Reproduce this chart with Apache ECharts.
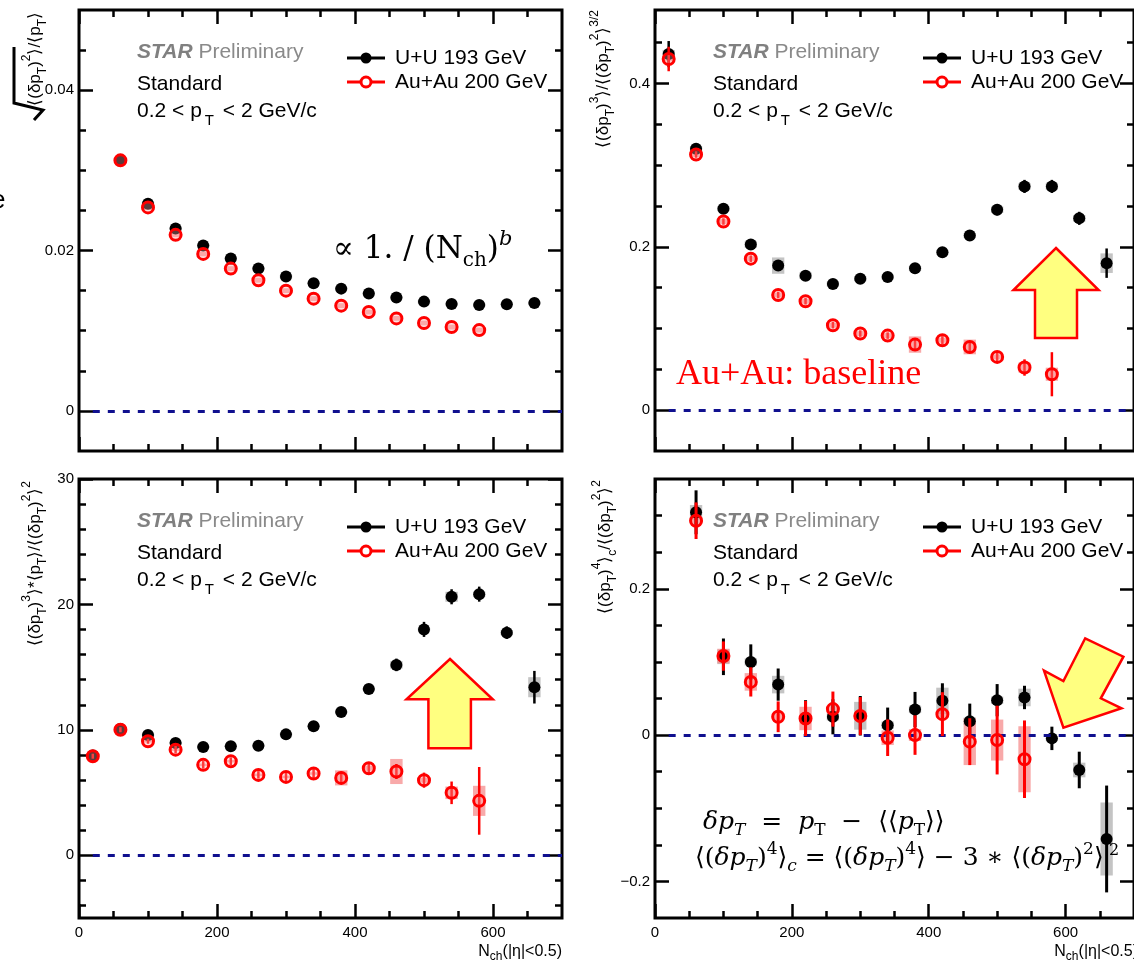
<!DOCTYPE html>
<html><head><meta charset="utf-8"><title>STAR Preliminary - pT fluctuations</title>
<script src="https://cdn.jsdelivr.net/npm/echarts@6.0.0/dist/echarts.min.js"></script>
<style>html,body{margin:0;padding:0;background:#fff;overflow:hidden}#chart{width:1134px;height:963px}</style>
</head><body><div id="chart"></div>
<script>
// ================= DATA =================
const nchBins = [20,60,100,140,180,220,260,300,340,380,420,460,500,540,580,620,660];
const xTickMajor = [0,200,400,600];
const xTickLabels = ['0','200','400','600'];
const seriesNames = ['U+U 193 GeV','Au+Au 200 GeV'];

// Panel 1: sqrt(<(dpT)^2>)/<pT>
const sigmaTicks = [0,0.02,0.04];
const sigmaTickLabels = ['0','0.02','0.04'];
const sigmaUU   = [null,0.03125,0.02583,0.02275,0.02063,0.0190,0.01775,0.01675,0.01592,0.01525,0.01463,0.01413,0.01363,0.01333,0.01321,0.0133,0.01346];
const sigmaUUSys = [null,0.0002,0.0002,0.0002,0.0002,0.0002,0.0002,0.0002,0.0002,0.0002,0.0002,0.0002,0.0002,0.0002,0.0002,0.0002,0.0002];
const sigmaAuAu = [null,0.03125,0.02538,0.02196,0.01958,0.01775,0.0163,0.0150,0.0140,0.01313,0.01233,0.01154,0.01096,0.01046,0.01008,null,null];
const sigmaAuAuSys = [null,0.0003,0.0003,0.0003,0.0003,0.0003,0.0003,0.0003,0.0003,0.0003,0.0003,0.0003,0.0003,0.0003,0.0003,null,null];

// Panel 2: <(dpT)^3>/<(dpT)^2>^(3/2)
const skewTicks = [0,0.2,0.4];
const skewTickLabels = ['0','0.2','0.4'];
const skewUU    = [0.436,0.320,0.2467,0.203,0.177,0.1647,0.1545,0.161,0.163,0.1737,0.1933,0.214,0.2455,0.274,0.274,0.2349,0.180];
const skewUUErr = [0.016,0.006,0.004,0.005,0.004,0.004,0.004,0.004,0.004,0.004,0.005,0.006,0.007,0.008,0.008,0.008,0.018];
const skewUUSys = [0.005,0.003,0.003,0.004,0.01,0.004,0.003,0.003,0.003,0.003,0.003,0.003,0.004,0.004,0.004,0.004,0.012];
const skewAuAu    = [0.430,0.313,0.231,0.1855,0.141,0.1333,0.104,0.0938,0.0913,0.0803,0.0856,0.0774,0.0652,0.0522,0.044,null,null];
const skewAuAuErr = [0.015,0.004,0.004,0.004,0.004,0.004,0.004,0.004,0.004,0.006,0.005,0.006,0.006,0.01,0.027,null,null];
const skewAuAuSys = [0.003,0.003,0.003,0.003,0.003,0.003,0.003,0.003,0.003,0.01,0.003,0.009,0.003,0.006,0.008,null,null];

// Panel 3: <(dpT)^3>*<pT>/<(dpT)^2>^2
const ratioTicks = [0,10,20,30];
const ratioTickLabels = ['0','10','20','30'];
const ratioUU    = [7.95,10.07,9.59,8.95,8.64,8.69,8.74,9.64,10.28,11.42,13.25,15.18,18.01,20.61,20.82,17.75,13.40];
const ratioUUErr = [0.2,0.2,0.2,0.2,0.2,0.2,0.2,0.3,0.3,0.4,0.4,0.5,0.6,0.6,0.6,0.5,1.3];
const ratioUUSys = [0.1,0.1,0.1,0.1,0.1,0.1,0.1,0.1,0.1,0.1,0.1,0.3,0.1,0.4,0.2,0.2,0.8];
const ratioAuAu    = [7.9,10.01,9.09,8.42,7.21,7.50,6.41,6.25,6.52,6.17,6.94,6.68,5.99,4.98,4.34,null,null];
const ratioAuAuErr = [0.2,0.2,0.2,0.3,0.3,0.3,0.3,0.4,0.4,0.5,0.5,0.6,0.6,0.9,2.7,null,null];
const ratioAuAuSys = [0.1,0.1,0.1,0.1,0.1,0.1,0.1,0.1,0.1,0.6,0.2,1.0,0.2,0.5,1.2,null,null];

// Panel 4: <(dpT)^4>_c/<(dpT)^2>^2
const kurtTicks = [-0.2,0,0.2];
const kurtTickLabels = ['\u22120.2','0','0.2'];
const kurtUU    = [null,0.3045,0.107,0.100,0.069,0.0227,0.025,0.0264,0.0136,0.035,0.0468,0.019,0.0477,0.0514,-0.0045,-0.0477,-0.142];
const kurtUUErr = [null,0.03,0.025,0.024,0.022,0.025,0.024,0.027,0.024,0.024,0.024,0.024,0.022,0.016,0.016,0.025,0.073];
const kurtUUSys = [null,0.01,0.01,0.005,0.012,0.005,0.005,0.019,0.005,0.005,0.018,0.005,0.005,0.012,0.003,0.01,0.05];
const kurtAuAu    = [null,0.293,0.108,0.0727,0.025,0.0227,0.0355,0.026,-0.0036,0.0,0.0286,-0.009,-0.0068,-0.033,null,null,null];
const kurtAuAuErr = [null,0.025,0.02,0.02,0.021,0.024,0.024,0.026,0.025,0.027,0.03,0.032,0.047,0.053,null,null,null];
const kurtAuAuSys = [null,0.005,0.01,0.012,0.005,0.016,0.005,0.005,0.01,0.008,0.005,0.032,0.028,0.045,null,null,null];

// ================= STYLE / LAYOUT =================
const SANS = '"Liberation Sans", Arial, Helvetica, sans-serif';
const SERIF = '"DejaVu Serif", "Liberation Serif", serif';
const TIMES = '"Liberation Serif", "Times New Roman", serif';
const PW = 483;
const panels = [
  {left:79,  top:10,  height:441, yMin:-0.005, yMax:0.05, yStep:0.005, ticks:sigmaTicks, labels:sigmaTickLabels, xLab:false,
   uu:sigmaUU, uuErr:null, uuSys:sigmaUUSys, au:sigmaAuAu, auErr:null, auSys:sigmaAuAuSys, errW:2.5, redFill:'rgba(255,170,170,0.35)'},
  {left:655, top:10,  height:441, yMin:-0.05, yMax:0.49, yStep:0.05, ticks:skewTicks, labels:skewTickLabels, xLab:false,
   uu:skewUU, uuErr:skewUUErr, uuSys:skewUUSys, au:skewAuAu, auErr:skewAuAuErr, auSys:skewAuAuSys, errW:2.5, redFill:'rgba(255,170,170,0.35)'},
  {left:79,  top:479, height:439, yMin:-5, yMax:30, yStep:2, ticks:ratioTicks, labels:ratioTickLabels, xLab:true,
   uu:ratioUU, uuErr:ratioUUErr, uuSys:ratioUUSys, au:ratioAuAu, auErr:ratioAuAuErr, auSys:ratioAuAuSys, errW:2.5, redFill:'rgba(255,170,170,0.35)'},
  {left:655, top:479, height:439, yMin:-0.25, yMax:0.35, yStep:0.05, ticks:kurtTicks, labels:kurtTickLabels, xLab:true,
   uu:kurtUU, uuErr:kurtUUErr, uuSys:kurtUUSys, au:kurtAuAu, auErr:kurtAuAuErr, auSys:kurtAuAuSys, errW:3, redFill:'rgba(255,255,255,0)'}
];

function minorTicks(min, max, step, majors) {
  const out = [];
  for (let k = Math.ceil(min/step - 1e-9); k <= Math.floor(max/step + 1e-9); k++) {
    const v = +(k*step).toFixed(6);
    if (v <= min + 1e-9 || v >= max - 1e-9) continue;
    if (majors.some(m => Math.abs(m - v) < 1e-9)) continue;
    out.push(v);
  }
  return out;
}
const xTickMinor = minorTicks(0, 700, 50, xTickMajor);

function rows(vals, extra) {
  const r = [];
  nchBins.forEach((x, i) => {
    if (vals[i] == null) return;
    if (extra && extra[i] == null) return;
    r.push(extra ? [x, vals[i], extra[i]] : [x, vals[i]]);
  });
  return r;
}
function boxRender(color, hw) {
  return function (params, api) {
    const x = api.value(0), y = api.value(1), s = api.value(2);
    const a = api.coord([x - hw, y + s]), b = api.coord([x + hw, y - s]);
    return {type:'rect', shape:{x:a[0], y:a[1], width:b[0]-a[0], height:Math.max(b[1]-a[1], 0.5)}, style:{fill:color}};
  };
}
function errRender(color, w) {
  return function (params, api) {
    const x = api.value(0), y = api.value(1), e = api.value(2);
    const a = api.coord([x, y - e]), b = api.coord([x, y + e]);
    return {type:'line', shape:{x1:a[0], y1:a[1], x2:b[0], y2:b[1]}, style:{stroke:color, lineWidth:w}};
  };
}

const option = {animation:false, backgroundColor:'#fff', grid:[], xAxis:[], yAxis:[], series:[], graphic:[]};

panels.forEach((p, gi) => {
  option.grid.push({left:p.left, top:p.top, width:PW, height:p.height, show:true,
    borderColor:'#000', borderWidth:3, backgroundColor:'rgba(0,0,0,0)'});
  const yMinor = minorTicks(p.yMin, p.yMax, p.yStep, p.ticks);
  const fmtY = v => { const i = p.ticks.findIndex(t => Math.abs(t - v) < 1e-9); return i >= 0 ? p.labels[i] : ''; };
  const fmtX = v => { const i = xTickMajor.findIndex(t => Math.abs(t - v) < 1e-9); return i >= 0 ? xTickLabels[i] : ''; };
  const xi = option.xAxis.length, yi = option.yAxis.length;
  const mkX = (pos, major, lab) => ({type:'value', gridIndex:gi, position:pos, min:0, max:700,
    axisLine:{show:false, onZero:false}, splitLine:{show:false},
    axisTick:{show:true, inside:true, length:major?14:7, lineStyle:{color:'#000', width:2.5}, customValues:major?xTickMajor:xTickMinor},
    axisLabel: lab ? {show:true, customValues:xTickMajor, formatter:fmtX, margin:7, fontSize:15, fontFamily:SANS, color:'#000'} : {show:false}});
  const mkY = (pos, major, lab) => ({type:'value', gridIndex:gi, position:pos, min:p.yMin, max:p.yMax,
    axisLine:{show:false, onZero:false}, splitLine:{show:false},
    axisTick:{show:true, inside:true, length:major?14:7, lineStyle:{color:'#000', width:2.5}, customValues:major?p.ticks:yMinor},
    axisLabel: lab ? {show:true, customValues:p.ticks, formatter:fmtY, margin:5, fontSize:15, fontFamily:SANS, color:'#000'} : {show:false}});
  option.xAxis.push(mkX('bottom',true,p.xLab), mkX('bottom',false,false), mkX('top',true,false), mkX('top',false,false));
  option.yAxis.push(mkY('left',true,true), mkY('left',false,false), mkY('right',true,false), mkY('right',false,false));
  const ax = {xAxisIndex:xi, yAxisIndex:yi};
  const hw = 9;
  option.series.push(Object.assign({type:'custom', name:seriesNames[0], z:1, renderItem:boxRender('#c4c4c4', hw), encode:{x:0,y:1}, data:rows(p.uu, p.uuSys),
    markLine:{silent:true, symbol:'none', label:{show:false}, animation:false,
      lineStyle:{color:'#10108f', width:3, type:[7,8], opacity:1},
      data:[[{coord:[nchBins[0],0]},{coord:[700,0]}]]}}, ax));
  option.series.push(Object.assign({type:'custom', name:seriesNames[1], z:2, renderItem:boxRender('rgba(245,140,140,0.75)', hw), encode:{x:0,y:1}, data:rows(p.au, p.auSys)}, ax));
  if (p.uuErr) option.series.push(Object.assign({type:'custom', name:seriesNames[0], z:3, renderItem:errRender('#000', p.errW), encode:{x:0,y:1}, data:rows(p.uu, p.uuErr)}, ax));
  option.series.push(Object.assign({type:'scatter', name:seriesNames[0], z:4, symbol:'circle', symbolSize:12, itemStyle:{color:'#000', opacity:1}, data:rows(p.uu)}, ax));
  if (p.auErr) option.series.push(Object.assign({type:'custom', name:seriesNames[1], z:5, renderItem:errRender('#ff0000', p.errW), encode:{x:0,y:1}, data:rows(p.au, p.auErr)}, ax));
  option.series.push(Object.assign({type:'scatter', name:seriesNames[1], z:6, symbol:'circle', symbolSize:11,
    itemStyle:{color:p.redFill, borderColor:'#ff0000', borderWidth:3, opacity:1}, data:rows(p.au)}, ax));

  // in-panel texts
  const L = p.left, T = p.top;
  option.graphic.push(
    {type:'text', x:L+58, y:T+42, z:50, style:{text:'{s|STAR}{p| Preliminary}', verticalAlign:'middle', align:'left',
      rich:{s:{fontSize:21, fontFamily:SANS, fontWeight:'bold', fontStyle:'italic', fill:'#808080'},
            p:{fontSize:21, fontFamily:SANS, fill:'#8a8a8a'}}}},
    {type:'text', x:L+58, y:T+74, z:50, style:{text:'Standard', font:'21px '+SANS, fill:'#000', verticalAlign:'middle'}},
    {type:'text', x:L+58, y:T+101, z:50, style:{text:'{n|0.2 < p}{b|T}{n| < 2 GeV/c}', verticalAlign:'middle', align:'left',
      rich:{n:{fontSize:21, fontFamily:SANS, fill:'#000', lineHeight:34, verticalAlign:'middle'},
            b:{fontSize:15, fontFamily:SANS, fill:'#000', lineHeight:15, verticalAlign:'bottom', padding:[0,3,0,3]}}}},
    // legend
    {type:'line', z:50, shape:{x1:L+268, y1:T+48, x2:L+306, y2:T+48}, style:{stroke:'#000', lineWidth:3}},
    {type:'circle', z:51, shape:{cx:L+287, cy:T+48, r:5.5}, style:{fill:'#000'}},
    {type:'text', x:L+316, y:T+48, z:50, style:{text:seriesNames[0], font:'21px '+SANS, fill:'#000', verticalAlign:'middle'}},
    {type:'line', z:50, shape:{x1:L+268, y1:T+72, x2:L+306, y2:T+72}, style:{stroke:'#ff0000', lineWidth:3}},
    {type:'circle', z:51, shape:{cx:L+287, cy:T+72, r:5}, style:{fill:'#fff', stroke:'#ff0000', lineWidth:3}},
    {type:'text', x:L+316, y:T+72, z:50, style:{text:seriesNames[1], font:'21px '+SANS, fill:'#000', verticalAlign:'middle'}}
  );
});

// y-axis titles (rotated)
const tRich = {
  n:{fontSize:17, fontFamily:SANS, fill:'#000', lineHeight:28, verticalAlign:'middle'},
  u:{fontSize:12, fontFamily:SANS, fill:'#000', lineHeight:12, verticalAlign:'top'},
  b:{fontSize:12, fontFamily:SANS, fill:'#000', lineHeight:12, verticalAlign:'bottom'}
};
const yTitles = [
  {x:35, y:12, t:'{n|\u27e8(\u03b4p}{b|T}{n|)}{u|2}{n|\u27e9/\u27e8p}{b|T}{n|\u27e9}'},
  {x:603, y:10, t:'{n|\u27e8(\u03b4p}{b|T}{n|)}{u|3}{n|\u27e9/\u27e8(\u03b4p}{b|T}{n|)}{u|2}{n|\u27e9}{u|3/2}'},
  {x:35, y:481, t:'{n|\u27e8(\u03b4p}{b|T}{n|)}{u|3}{n|\u27e9*\u27e8p}{b|T}{n|\u27e9/\u27e8(\u03b4p}{b|T}{n|)}{u|2}{n|\u27e9}{u|2}'},
  {x:605, y:480, t:'{n|\u27e8(\u03b4p}{b|T}{n|)}{u|4}{n|\u27e9}{b|c}{n|/\u27e8(\u03b4p}{b|T}{n|)}{u|2}{n|\u27e9}{u|2}'}
];
yTitles.forEach(tt => option.graphic.push({type:'text', x:tt.x, y:tt.y, rotation:Math.PI/2, z:50,
  style:{text:tt.t, align:'right', verticalAlign:'middle', rich:tRich}}));
// square-root sign of panel 1 title
option.graphic.push({type:'polyline', z:50, shape:{points:[[14,47],[14,103],[43,110],[34,120]]}, style:{stroke:'#000', lineWidth:3, fill:null}});
// cut glyph at left edge
option.graphic.push({type:'text', x:-9, y:201, z:50, style:{text:'e', font:'26px '+SANS, fill:'#000', verticalAlign:'middle'}});

// x-axis titles
[79, 655].forEach(L => option.graphic.push({type:'text', x:L+PW, y:952, z:50,
  style:{text:'{n|N}{b|ch}{n|(|\u03b7|<0.5)}', align:'right', verticalAlign:'middle',
    rich:{n:{fontSize:16, fontFamily:SANS, fill:'#000', lineHeight:22, verticalAlign:'middle'},
          b:{fontSize:12, fontFamily:SANS, fill:'#000', lineHeight:12, verticalAlign:'bottom'}}}}));

// annotations
option.graphic.push(
  {type:'text', x:333, y:250, z:50, style:{text:'{m|\u221d 1. / (N}{s|ch}{m|)}{p|b}', verticalAlign:'middle',
    rich:{m:{fontSize:31, fontFamily:SERIF, fill:'#000', lineHeight:42, verticalAlign:'middle'},
          s:{fontSize:20, fontFamily:SERIF, fill:'#000', lineHeight:20, verticalAlign:'bottom'},
          p:{fontSize:21, fontFamily:SERIF, fontStyle:'italic', fill:'#000', lineHeight:20, verticalAlign:'top'}}}},
  {type:'text', x:676, y:375, z:50, style:{text:'Au+Au: baseline', font:'36px '+TIMES, fill:'#ff0000', verticalAlign:'middle'}}
);
const fRich = {
  i:{fontSize:25, fontFamily:SERIF, fontStyle:'italic', fill:'#000', lineHeight:34, verticalAlign:'middle'},
  r:{fontSize:25, fontFamily:SERIF, fill:'#000', lineHeight:34, verticalAlign:'middle'},
  is:{fontSize:17, fontFamily:SERIF, fontStyle:'italic', fill:'#000', lineHeight:16, verticalAlign:'bottom'},
  rs:{fontSize:17, fontFamily:SERIF, fill:'#000', lineHeight:16, verticalAlign:'bottom'},
  u:{fontSize:17, fontFamily:SERIF, fill:'#000', lineHeight:16, verticalAlign:'top'},
  c:{fontSize:17, fontFamily:SERIF, fontStyle:'italic', fill:'#000', lineHeight:14, verticalAlign:'bottom'}
};
option.graphic.push(
  {type:'text', x:703, y:822, z:50, style:{text:'{i|\u03b4p}{is|T}{r|  =  }{i|p}{rs|T}{r|  \u2212  \u27e8\u27e8}{i|p}{rs|T}{r|\u27e9\u27e9}', verticalAlign:'middle', rich:fRich}},
  {type:'text', x:695, y:858, z:50, style:{text:'{r|\u27e8(}{i|\u03b4p}{is|T}{r|)}{u|4}{r|\u27e9}{c|c}{r| = \u27e8(}{i|\u03b4p}{is|T}{r|)}{u|4}{r|\u27e9 \u2212 3 \u2217 \u27e8(}{i|\u03b4p}{is|T}{r|)}{u|2}{r|\u27e9}', verticalAlign:'middle', rich:fRich}},
  {type:'text', x:1109, y:851, z:50, style:{text:'2', font:'16px '+SERIF, fill:'#000', verticalAlign:'middle'}}
);
// arrows
const arrowStyle = {fill:'#ffff80', stroke:'#ff0000', lineWidth:2.5};
option.graphic.push(
  {type:'polygon', z:40, shape:{points:[[1056,248],[1098.6,290],[1077,290],[1077,338],[1035,338],[1035,290],[1013.5,290]]}, style:arrowStyle},
  {type:'polygon', z:40, shape:{points:[[450,659],[492.7,699.3],[470.9,699.3],[470.9,748.3],[428.4,748.3],[428.4,699.3],[406.5,699.3]]}, style:arrowStyle},
  {type:'polygon', z:40, shape:{points:[[1063.4,727.7],[1044,670.7],[1063.4,681],[1085.2,638.3],[1123.4,656.7],[1100.8,698.3],[1121.5,708.3]]}, style:arrowStyle}
);

const chart = echarts.init(document.getElementById('chart'), null, {renderer:'canvas'});
chart.setOption(option);
</script></body></html>
